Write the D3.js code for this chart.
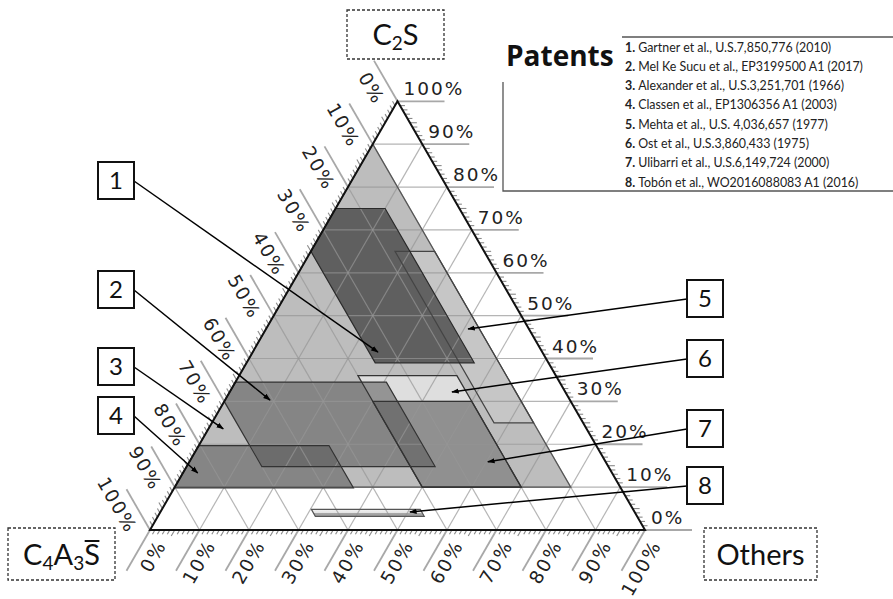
<!DOCTYPE html>
<html><head><meta charset="utf-8">
<script src="https://cdn.jsdelivr.net/npm/d3@7"></script>
<style>body{margin:0;background:#fff}svg{display:block}</style>
</head><body>
<svg id="chart" width="893" height="599"></svg>
<script>
// ---------- DATA ----------
const axisTickValues = [0,10,20,30,40,50,60,70,80,90,100];
const axisTickLabels = ["0%","10%","20%","30%","40%","50%","60%","70%","80%","90%","100%"];
const minorTickValues = d3.range(1,100).filter(v => v % 10 !== 0);
const patentIds = ["1","2","3","4","5","6","7","8"];
const patentRefs = [
  "Gartner et al., U.S.7,850,776 (2010)",
  "Mel Ke Sucu et al., EP3199500 A1 (2017)",
  "Alexander et al., U.S.3,251,701 (1966)",
  "Classen et al., EP1306356 A1 (2003)",
  "Mehta et al., U.S. 4,036,657 (1977)",
  "Ost et al., U.S.3,860,433 (1975)",
  "Ulibarri et al., U.S.6,149,724 (2000)",
  "Tobón et al., WO2016088083 A1 (2016)"
];
// vertices as [C2S %, C4A3S %, Others %]
const region1 = [[75,25,0],[75,15,10],[39,15,46],[39,35,26],[65,35,0]];
const region2 = [[34.5,65.5,0],[34.5,35,30.5],[14.8,35,50.2],[14.8,70,15.2],[30,70,0]];
const region3 = [[90,10,0],[10,10,80],[10,90,0]];
const region4 = [[19.7,80.3,0],[19.7,54,26.3],[9.8,54,36.2],[9.8,90.2,0]];
const region5 = [[65,18,17],[65,10,25],[25,10,65],[25,18,57]];
const region6 = [[36,40,24],[36,20,44],[10,20,70],[10,40,50]];
const region7 = [[30,40,30],[30,20,50],[10,20,70],[10,40,50]];
const region8 = [[4.8,65,30.2],[4.8,43,52.2],[3.2,43,53.8],[3.2,65,31.8]];
// callout arrow targets [C2S %, C4A3S %, Others %]
const calloutTargets = [[41.5,33.2,25.3],[30.3,60.6,9.1],[23.6,73.4,3.0],[13.3,83.7,3.0],
                        [46.9,12.3,40.8],[32.2,22.9,44.9],[15.9,23.8,60.3],[4.2,45.4,50.4]];

// ---------- LAYOUT ----------
const svg = d3.select("#chart");
const xScale = d3.scaleLinear().domain([0,100]).range([150,645]);
const yScale = d3.scaleLinear().domain([0,100]).range([530,101.3]);
const proj = p => [xScale(p[2] + p[0]/2), yScale(p[0])];
const line = d3.line();

const defs = svg.append("defs");
defs.append("marker").attr("id","arr").attr("viewBox","0 0 10 10").attr("refX",9).attr("refY",5)
  .attr("markerWidth",5).attr("markerHeight",5).attr("orient","auto")
  .append("path").attr("d","M0,1.5L10,5L0,8.5Z").attr("fill","#000");
const g8 = defs.append("linearGradient").attr("id","g8").attr("x1",0).attr("y1",0).attr("x2",0).attr("y2",1);
g8.append("stop").attr("offset","0").attr("stop-color","#f2f2f2");
g8.append("stop").attr("offset","0.55").attr("stop-color","#e2e2e2");
g8.append("stop").attr("offset","0.6").attr("stop-color","#a0a0a0");
g8.append("stop").attr("offset","1").attr("stop-color","#a8a8a8");

const regions = [region3, region5, region1, region6, region7, region2, region4, region8];
const styles = [
  {fill:"#bdbdbd", op:1,    stroke:"#555"},
  {fill:"#ffffff", op:0.15, stroke:"#444"},
  {fill:"#383838", op:0.7,  stroke:"#2a2a2a"},
  {fill:"#f4f4f4", op:0.6,  stroke:"#333"},
  {fill:"#5c5c5c", op:0.6,  stroke:"#333"},
  {fill:"#575757", op:0.55, stroke:"#333"},
  {fill:"#575757", op:0.55, stroke:"#333"},
  {fill:"url(#g8)", op:1,   stroke:"#555"}
];

// region fills
svg.append("g").selectAll("path").data(regions).join("path")
  .attr("d", r => line(r.map(proj)) + "Z")
  .attr("fill", (r,i) => styles[i].fill).attr("fill-opacity", (r,i) => styles[i].op)
  .attr("stroke","none");

// grid lines
const grid = svg.append("g").attr("stroke","rgba(150,150,150,0.7)").attr("stroke-width",1.2).attr("fill","none");
const inner = axisTickValues.filter(v => v>0 && v<100);
inner.forEach(v => {
  grid.append("path").attr("d", line([proj([v,100-v,0]), proj([v,0,100-v])]));
  grid.append("path").attr("d", line([proj([100-v,v,0]), proj([0,v,100-v])]));
  grid.append("path").attr("d", line([proj([100-v,0,v]), proj([0,100-v,v])]));
});

// region outlines
svg.append("g").selectAll("path").data(regions).join("path")
  .attr("d", r => line(r.map(proj)) + "Z")
  .attr("fill","none").attr("stroke",(r,i) => styles[i].stroke).attr("stroke-width",1.2);

// axis label lines + ticks
const dirs = {
  right: [1,0],
  left: [-0.5,-0.8660],
  bottom: [-0.5,0.8660]
};
const axG = svg.append("g").attr("fill","none");
function edgePoint(side, v){
  if (side==="right") return proj([v,0,100-v]);
  if (side==="left") return proj([100-v,v,0]);
  return proj([0,100-v,v]);
}
["right","left","bottom"].forEach(side => {
  const d = dirs[side];
  axisTickValues.forEach(v => {
    const p = edgePoint(side,v);
    axG.append("path").attr("d", line([p,[p[0]+d[0]*47,p[1]+d[1]*47]]))
      .attr("stroke","#a8a8a8").attr("stroke-width",1.8);
  });
  minorTickValues.forEach(v => {
    const p = edgePoint(side,v);
    const L = v%5===0 ? 7 : 5;
    axG.append("path").attr("d", line([p,[p[0]+d[0]*L,p[1]+d[1]*L]]))
      .attr("stroke","#8a8a8a").attr("stroke-width",1.1);
  });
});

// triangle outline
svg.append("path").attr("d", line([proj([100,0,0]),proj([0,100,0]),proj([0,0,100])])+"Z")
  .attr("fill","none").attr("stroke","#111").attr("stroke-width",2);

// axis labels
const lab = svg.append("g").attr("font-family","'DejaVu Sans', Verdana, sans-serif")
  .attr("font-size",18.5).attr("fill","#222").attr("letter-spacing","2px");
axisTickValues.forEach((v,i) => {
  // right: C2S
  let p = edgePoint("right",v);
  lab.append("text").attr("x",p[0]+6).attr("y",p[1]-6).text(axisTickLabels[i]);
  // left: C4A3S
  p = edgePoint("left",v);
  lab.append("text").attr("transform",`translate(${p[0]-17.5},${p[1]+1.5}) rotate(60)`)
    .attr("text-anchor","end").attr("dominant-baseline","central").text(axisTickLabels[i]);
  // bottom: Others
  p = edgePoint("bottom",v);
  lab.append("text").attr("transform",`translate(${p[0]+11.5},${p[1]+11.5}) rotate(-60)`)
    .attr("text-anchor","end").attr("dominant-baseline","central").text(axisTickLabels[i]);
});

// corner title boxes
const ttl = svg.append("g");
function cornerBox(x,y,w,h){
  ttl.append("rect").attr("x",x).attr("y",y).attr("width",w).attr("height",h)
    .attr("fill","none").attr("stroke","#333").attr("stroke-width",1.3).attr("stroke-dasharray","3,2");
}
cornerBox(347,10,97,49); cornerBox(8,528,107,52); cornerBox(704,528,113,52);
const tfont = "Lato, 'Open Sans', sans-serif";
let t = ttl.append("text").attr("x",395.5).attr("y",45).attr("text-anchor","middle")
  .attr("font-family",tfont).attr("font-size",29).attr("fill","#111");
t.append("tspan").text("C");
t.append("tspan").attr("font-size",19).attr("dy",5).text("2");
t.append("tspan").attr("dy",-5).text("S");
t = ttl.append("text").attr("x",61.5).attr("y",565).attr("text-anchor","middle")
  .attr("font-family",tfont).attr("font-size",29).attr("fill","#111");
t.append("tspan").text("C");
t.append("tspan").attr("font-size",19).attr("dy",5).text("4");
t.append("tspan").attr("dy",-5).text("A");
t.append("tspan").attr("font-size",19).attr("dy",5).text("3");
t.append("tspan").attr("dy",-5).text("S");
{
  const node = t.node();
  const n = node.getNumberOfChars();
  const s0 = node.getStartPositionOfChar(n-1), s1 = node.getEndPositionOfChar(n-1);
  ttl.append("line").attr("x1",s0.x+0.5).attr("x2",s1.x-0.5).attr("y1",541).attr("y2",541)
    .attr("stroke","#111").attr("stroke-width",2);
}
ttl.append("text").attr("x",760.5).attr("y",565).attr("text-anchor","middle")
  .attr("font-family",tfont).attr("font-size",29).attr("fill","#111").text("Others");

// legend
const leg = svg.append("g");
leg.append("path").attr("d","M622,37H893M503,82V191H893").attr("fill","none").attr("stroke","#555").attr("stroke-width",1.3);
leg.append("text").attr("x",506).attr("y",66).attr("font-family","'Open Sans', sans-serif")
  .attr("font-weight","bold").attr("font-size",28).attr("fill","#111").text("Patents");
patentIds.forEach((id,i) => {
  const tx = leg.append("text").attr("x",625).attr("y",51.5 + i*19.3)
    .attr("font-family",tfont).attr("font-size",12.4).attr("fill","#222");
  tx.append("tspan").attr("font-weight","bold").text(id + ". ");
  tx.append("tspan").text(patentRefs[i]);
});

// callouts
const boxPos = [[98,162],[98,271],[98,348],[98,397],[687,280],[687,340],[687,410],[687,467]];
const cg = svg.append("g");
patentIds.forEach((id,i) => {
  const [bx,by] = boxPos[i];
  const left = i < 4;
  const start = left ? [bx+36, by+19] : [bx, by+19];
  cg.append("path").attr("d", line([start, proj(calloutTargets[i])]))
    .attr("stroke","#000").attr("stroke-width",1.5).attr("fill","none").attr("marker-end","url(#arr)");
  cg.append("rect").attr("x",bx).attr("y",by).attr("width",36).attr("height",37)
    .attr("fill","#fff").attr("stroke","#111").attr("stroke-width",2);
  cg.append("text").attr("x",bx+18).attr("y",by+27).attr("text-anchor","middle")
    .attr("font-family",tfont).attr("font-size",24).attr("fill","#111").text(id);
});
</script>
</body></html>
